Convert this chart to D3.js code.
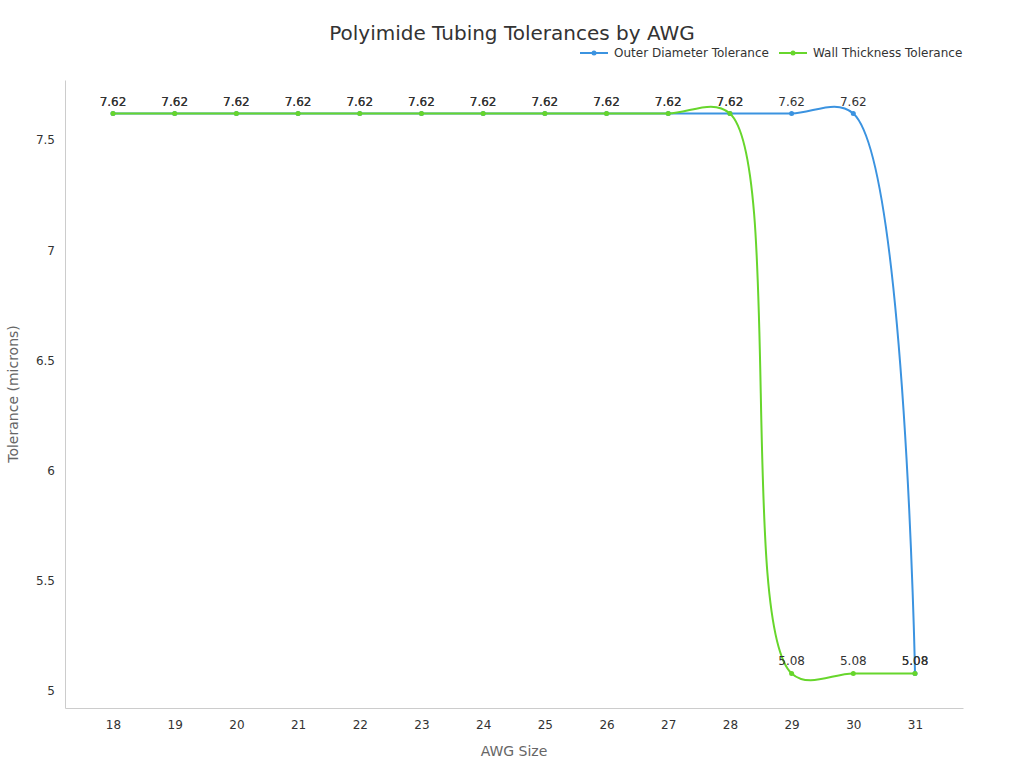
<!DOCTYPE html><html><head><meta charset="utf-8"><script src="https://cdn.jsdelivr.net/npm/d3@7/dist/d3.min.js"></script>
<style>body{margin:0;background:#fff;font-family:"DejaVu Sans",sans-serif}</style></head><body><svg id="c" width="1024" height="768"></svg>
<script>
const awg=[18,19,20,21,22,23,24,25,26,27,28,29,30,31];
const outerDiameter=[7.62,7.62,7.62,7.62,7.62,7.62,7.62,7.62,7.62,7.62,7.62,7.62,7.62,5.08];
const wallThickness=[7.62,7.62,7.62,7.62,7.62,7.62,7.62,7.62,7.62,7.62,7.62,5.08,5.08,5.08];
const yTicks=[5,5.5,6,6.5,7,7.5];
const series=[{name:"Outer Diameter Tolerance",values:outerDiameter,color:"#3b93e0"},{name:"Wall Thickness Tolerance",values:wallThickness,color:"#67d62c"}];
const svg=d3.select("#c");
const L=65,R=963,T=80,B=708;
const x=d3.scaleLinear().domain([17.222,31.778]).range([L,R]);
const y=d3.scaleLinear().domain([4.923,7.772]).range([B,T]);
svg.append("text").attr("x",512).attr("y",40).attr("text-anchor","middle").attr("font-size",20).attr("fill","#333").text("Polyimide Tubing Tolerances by AWG");
const xa=svg.append("g").attr("transform",`translate(0,${B})`).call(d3.axisBottom(x).tickValues(awg).tickFormat(d3.format("d")).tickSize(0).tickPadding(12));
xa.select(".domain").attr("stroke","#ccc");
const ya=svg.append("g").attr("transform",`translate(${L},0)`).call(d3.axisLeft(y).tickValues(yTicks).tickFormat(d=>String(d)).tickSize(0).tickPadding(10));
ya.select(".domain").attr("stroke","#ccc");
svg.selectAll(".tick text").attr("font-size",12).attr("fill","#333").attr("font-family","DejaVu Sans");
svg.append("text").attr("x",514).attr("y",756).attr("text-anchor","middle").attr("font-size",14).attr("fill","#666").text("AWG Size");
svg.append("text").attr("transform","translate(18,394) rotate(-90)").attr("text-anchor","middle").attr("font-size",14).attr("fill","#666").text("Tolerance (microns)");
const line=d3.line().x((d,i)=>x(awg[i])).y(d=>y(d)).curve(d3.curveCatmullRom.alpha(0.5));
series.forEach(s=>{
 svg.append("path").attr("d",line(s.values)).attr("fill","none").attr("stroke",s.color).attr("stroke-width",2);
 svg.selectAll(null).data(s.values).enter().append("circle").attr("cx",(d,i)=>x(awg[i])).attr("cy",d=>y(d)).attr("r",2.5).attr("fill",s.color);
 svg.selectAll(null).data(s.values).enter().append("text").attr("x",(d,i)=>x(awg[i])).attr("y",d=>y(d)-8).attr("text-anchor","middle").attr("font-size",12).attr("fill","#333").text(d=>d.toFixed(2));
});
const lg=svg.append("g");
[[580,"Outer Diameter Tolerance",0],[779,"Wall Thickness Tolerance",1]].forEach(([lx,t,i])=>{
 lg.append("line").attr("x1",lx).attr("x2",lx+28).attr("y1",53).attr("y2",53).attr("stroke",series[i].color).attr("stroke-width",2);
 lg.append("circle").attr("cx",lx+14).attr("cy",53).attr("r",2.5).attr("fill",series[i].color);
 lg.append("text").attr("x",lx+34).attr("y",57).attr("font-size",12).attr("fill","#333").text(t);
});
</script></body></html>
